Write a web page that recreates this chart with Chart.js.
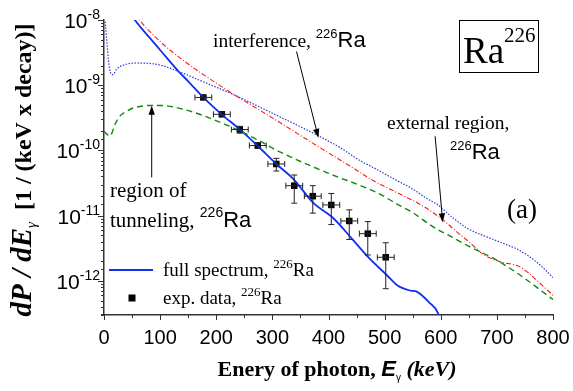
<!DOCTYPE html>
<html><head><meta charset="utf-8">
<script src="https://cdn.jsdelivr.net/npm/chart.js@4/dist/chart.umd.min.js"></script>
<style>html,body{margin:0;padding:0;background:#fff;}#wrap{width:573px;height:391px;}</style>
</head><body><div id="wrap"><canvas id="c" width="573" height="391"></canvas></div>
<script>
// ---- data (keV, dP/dE) ----
const fullE   = [40,55,80,100,133,150,177,210,242,274,307,338,372,410,442,469,505,523,546,558,579,595,605];
const fullVal = [1.58e-8,1.0e-8,5.5e-9,3.47e-9,1.62e-9,1.15e-9,6.5e-10,3.55e-10,2.1e-10,1.17e-10,6.2e-11,3.6e-11,1.6e-11,8.9e-12,4.4e-12,2.4e-12,1.2e-12,8.5e-13,7.1e-13,6.8e-13,4.7e-13,3.2e-13,1.5e-13];

const interfE   = [0,2,5,8,11,15.5,23,35,58,100,133,180,231,300,383,421,457,475,528,546,576,594,620,650,680,710,740,760,780,800];
const interfVal = [2.0e-8,1.0e-8,4.68e-9,2.4e-9,1.62e-9,1.45e-9,1.78e-9,2.04e-9,2.19e-9,2.04e-9,1.62e-9,1.10e-9,7.16e-10,3.72e-10,1.66e-10,1.10e-10,6.9e-11,5.75e-11,3.24e-11,2.69e-11,1.82e-11,1.48e-11,9.5e-12,6.2e-12,4.8e-12,3.8e-12,2.95e-12,2.29e-12,1.66e-12,1.12e-12];

const extE   = [45,63,100,136,171,235,300,380,457,475,530,570,606,630,650,677,707,737,755,775,800];
const extVal = [1.66e-8,1.0e-8,4.68e-9,2.6e-9,1.58e-9,6.9e-10,3.16e-10,1.17e-10,4.57e-11,3.63e-11,2.09e-11,1.38e-11,8.3e-12,5.5e-12,3.98e-12,2.51e-12,1.95e-12,1.70e-12,1.35e-12,9.5e-13,6.0e-13];

const tunE   = [0,5,10.7,19.6,28.6,40,52,85,100,142,219,274,308,397,487,528,546,588,618,648,695,743,790,800];
const tunVal = [1.97e-10,1.78e-10,1.66e-10,2.51e-10,3.39e-10,3.98e-10,4.47e-10,4.9e-10,4.9e-10,4.27e-10,2.45e-10,1.45e-10,1.0e-10,4.57e-11,2.24e-11,1.41e-11,1.17e-11,6.6e-12,4.8e-12,3.47e-12,2.19e-12,1.2e-12,6.0e-13,5.2e-13];

const expE      = [177,210,242,274,307,339,372,405,437,470,502];
const expVal    = [6.5e-10,3.58e-10,2.09e-10,1.19e-10,6.2e-11,2.88e-11,1.99e-11,1.46e-11,8.3e-12,5.3e-12,2.3e-12];
const expErrE   = [15,15,15,15,15,15,15,15,15,15,15];
const expRelErr = [0.05,0.05,0.12,0.10,0.22,0.46,0.45,0.50,0.48,0.53,0.67];

const yDecades   = [1e-8,1e-9,1e-10,1e-11,1e-12];
const yDecadeExp = ['-8','-9','-10','-11','-12'];

// annotation arrows [E0, v0, E1, v1] (tail -> head), in data units
const arrowInterf = [343, 3.28e-9, 382, 1.56e-10];
const arrowExt    = [590, 1.65e-10, 603.5, 7.9e-12];
const arrowTun    = [85, 3.87e-11, 85, 4.86e-10];

const SERIF = '"Liberation Serif", "Times New Roman", serif';
const SANS  = '"Liberation Sans", Arial, sans-serif';

function pts(xs, ys){ return xs.map((x,i)=>({x:x, y:ys[i]})); }

function rich(ctx, x, y, parts, align){
  let w = 0;
  parts.forEach(p=>{ ctx.font = p[1]; p.w = ctx.measureText(p[0]).width; w += p.w; });
  let cx = align==='center' ? x - w/2 : (align==='right' ? x - w : x);
  ctx.textAlign='left'; ctx.textBaseline='alphabetic';
  parts.forEach(p=>{ ctx.font = p[1]; ctx.fillText(p[0], cx, y + (p[2]||0)); cx += p.w; });
  return w;
}
function line(ctx,x1,y1,x2,y2){ ctx.beginPath(); ctx.moveTo(x1,y1); ctx.lineTo(x2,y2); ctx.stroke(); }
function arrow(ctx,x1,y1,x2,y2){
  const ang = Math.atan2(y2-y1, x2-x1), L = 9, H = 3.2;
  line(ctx, x1, y1, x2 - Math.cos(ang)*L*0.8, y2 - Math.sin(ang)*L*0.8);
  ctx.beginPath();
  ctx.moveTo(x2,y2);
  ctx.lineTo(x2 - L*Math.cos(ang) + H*Math.sin(ang), y2 - L*Math.sin(ang) - H*Math.cos(ang));
  ctx.lineTo(x2 - L*Math.cos(ang) - H*Math.sin(ang), y2 - L*Math.sin(ang) + H*Math.cos(ang));
  ctx.closePath(); ctx.fill();
}

const deco = {
  id:'deco',
  afterDatasetsDraw(chart){
    const ctx = chart.ctx, xs = chart.scales.x, ys = chart.scales.y;
    ctx.save();
    ctx.strokeStyle = '#222'; ctx.lineWidth = 1;
    expE.forEach((e,i)=>{
      const px = xs.getPixelForValue(e), py = ys.getPixelForValue(expVal[i]);
      const xl = xs.getPixelForValue(e-expErrE[i]), xr = xs.getPixelForValue(e+expErrE[i]);
      const yt = ys.getPixelForValue(expVal[i]*(1+expRelErr[i])), yb = ys.getPixelForValue(expVal[i]*(1-expRelErr[i]));
      line(ctx,xl,py,xr,py); line(ctx,xl,py-3,xl,py+3); line(ctx,xr,py-3,xr,py+3);
      line(ctx,px,yt,px,yb); line(ctx,px-3,yt,px+3,yt); line(ctx,px-3,yb,px+3,yb);
    });
    ctx.restore();
  },
  afterDraw(chart){
    const ctx = chart.ctx, xs = chart.scales.x, ys = chart.scales.y, a = chart.chartArea;
    ctx.save();
    // tick marks
    ctx.strokeStyle = '#333'; ctx.lineWidth = 1;
    xs.ticks.forEach(t=>{
      const px = Math.round(xs.getPixelForValue(t.value)) + 0.5;
      const len = (t.value % 100 === 0) ? 5 : 3;
      line(ctx, px, a.bottom, px, a.bottom + len);
    });
    ys.ticks.forEach(t=>{
      const lg = Math.log10(t.value);
      const major = Math.abs(lg - Math.round(lg)) < 1e-6;
      const py = Math.round(ys.getPixelForValue(t.value)) + 0.5;
      const len = major ? 6 : 3;
      line(ctx, a.left - len, py, a.left, py);
    });
    // y tick labels
    ctx.fillStyle = '#000';
    yDecades.forEach((v,i)=>{
      const py = ys.getPixelForValue(v);
      rich(ctx, a.left - 4, py + 8, [['10', '21px '+SANS, 0], [yDecadeExp[i], '14px '+SANS, -9]], 'right');
    });
    // axis titles
    rich(ctx, 337, 376, [['Enery of photon, ', 'bold 22px '+SERIF], ['E', 'bold italic 22px '+SANS], ['\u03b3', '10px '+SANS, 5], [' (keV)', 'bold italic 22px '+SERIF]], 'center');
    ctx.save();
    ctx.translate(31, 170); ctx.rotate(-Math.PI/2);
    rich(ctx, 0, 0, [['dP / dE', 'bold italic 29px '+SERIF], ['\u03b3', 'italic 15px '+SERIF, 5], ['  [1 / (keV x decay)]', 'bold 24px '+SERIF]], 'center');
    ctx.restore();
    // annotations
    ctx.fillStyle = '#000';
    rich(ctx, 213, 47, [['interference, ', '19.5px '+SERIF], ['226', '13px '+SANS, -9], ['Ra', '22px '+SANS]], 'left');
    rich(ctx, 387, 129, [['external region,', '19.5px '+SERIF]], 'left');
    rich(ctx, 450, 159, [['226', '13px '+SANS, -9], ['Ra', '22px '+SANS]], 'left');
    rich(ctx, 110, 197, [['region of', '21px '+SERIF]], 'left');
    rich(ctx, 110, 227, [['tunneling, ', '21px '+SERIF], ['226', '14px '+SANS, -10], ['Ra', '22px '+SANS]], 'left');
    rich(ctx, 507, 218, [['(a)', '27px '+SERIF]], 'left');
    // Ra226 box
    ctx.strokeStyle = '#000'; ctx.lineWidth = 1;
    ctx.strokeRect(459.5, 20.5, 79, 52);
    rich(ctx, 463, 63, [['Ra', '37px '+SERIF], ['226', '21px '+SERIF, -21]], 'left');
    // arrows
    ctx.strokeStyle = '#000'; ctx.fillStyle = '#000'; ctx.lineWidth = 1;
    [arrowInterf, arrowExt, arrowTun].forEach(r=>{
      arrow(ctx, xs.getPixelForValue(r[0]), ys.getPixelForValue(r[1]), xs.getPixelForValue(r[2]), ys.getPixelForValue(r[3]));
    });
    // legend
    ctx.strokeStyle = '#1030f0'; ctx.lineWidth = 2;
    line(ctx, 109, 270, 153, 270);
    ctx.fillStyle = '#000';
    ctx.fillRect(128.5, 294.5, 7, 7);
    rich(ctx, 163, 276, [['full spectrum, ', '19px '+SERIF], ['226', '13px '+SERIF, -8], ['Ra', '19px '+SERIF]], 'left');
    rich(ctx, 163, 304, [['exp. data, ', '19px '+SERIF], ['226', '13px '+SERIF, -8], ['Ra', '19px '+SERIF]], 'left');
    ctx.restore();
  }
};

new Chart(document.getElementById('c').getContext('2d'), {
  type: 'line',
  data: { datasets: [
    { label:'tunneling', data: pts(tunE, tunVal), borderColor:'#118811', borderWidth:1.4, borderDash:[6,4], pointRadius:0, cubicInterpolationMode:'monotone', fill:false },
    { label:'external', data: pts(extE, extVal), borderColor:'#ff1a1a', borderWidth:1.1, borderDash:[5,2,1,2], pointRadius:0, cubicInterpolationMode:'monotone', fill:false },
    { label:'interference', data: pts(interfE, interfVal), borderColor:'#2a3ad8', borderWidth:1.2, borderDash:[1.5,1.5], pointRadius:0, cubicInterpolationMode:'monotone', fill:false },
    { label:'full spectrum', data: pts(fullE, fullVal), borderColor:'#1030f0', borderWidth:1.8, pointRadius:0, cubicInterpolationMode:'monotone', fill:false },
    { label:'exp. data', data: pts(expE, expVal), showLine:false, pointStyle:'rect', pointRadius:4.6, backgroundColor:'#000', borderColor:'#000', borderWidth:0 }
  ]},
  options: {
    responsive:false, animation:false, devicePixelRatio:1,
    layout:{ padding:{ top:20, right:20, left:0, bottom:0 } },
    plugins:{ legend:{display:false}, tooltip:{enabled:false} },
    scales:{
      x:{ type:'linear', min:0, max:800,
          grid:{display:false}, border:{display:true, color:'#333', width:1.5},
          ticks:{ stepSize:50, autoSkip:false, maxRotation:0, padding:3, color:'#000', font:{family:SANS, size:20},
                  callback:(v)=> (v % 100 === 0 ? String(v) : '') },
          afterFit:(s)=>{ s.height = 76; } },
      y:{ type:'logarithmic', min:3.13e-13, max:1e-8,
          grid:{display:false}, border:{display:true, color:'#333', width:1.5},
          ticks:{ display:false, autoSkip:false },
          afterFit:(s)=>{ s.width = 104; } }
    }
  },
  plugins:[deco]
});
</script>
</body></html>
